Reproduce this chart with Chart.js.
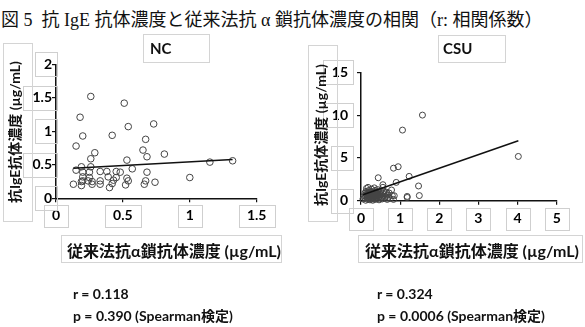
<!DOCTYPE html>
<html>
<head>
<meta charset="utf-8">
<script src="https://cdn.jsdelivr.net/npm/chart.js@4/dist/chart.umd.min.js"></script>
<style>
body { margin: 0; width: 585px; height: 327px; position: relative; background: #fff; overflow: hidden;
       font-family: Lato, "Noto Sans CJK JP", sans-serif; color: #111; }
canvas { position: absolute; top: 0; }
.t { position: absolute; white-space: nowrap; font-weight: bold; }
.box { position: absolute; border: 1px solid #d4d4d4; }
.rot { position: absolute; white-space: nowrap; font-weight: bold; font-size: 14px;
       transform: translate(-50%, -50%) rotate(-90deg); }
</style>
</head>
<body>
<div class="t" style="left:1px;top:5px;font-size:18px;font-weight:normal;font-family:'Liberation Serif','Noto Sans CJK JP',serif;">図 5&nbsp; 抗 IgE 抗体濃度と従来法抗 α 鎖抗体濃度の相関（r: 相関係数）</div>

<canvas id="ncChart" width="292" height="327" style="left:0"></canvas>
<canvas id="csuChart" width="293" height="327" style="left:292px"></canvas>

<div class="box" style="left:143px;top:34px;width:65px;height:27px;"></div>
<div class="t" style="left:150px;top:39px;font-size:15px;">NC</div>
<div class="box" style="left:438px;top:35px;width:66px;height:26px;"></div>
<div class="t" style="left:443px;top:39px;font-size:15px;">CSU</div>

<div class="box" style="left:3px;top:43px;width:28px;height:177px;"></div>
<div class="rot" style="left:14px;top:132px;">抗IgE抗体濃度 (µg/mL)</div>
<div class="box" style="left:308px;top:45px;width:28px;height:175px;"></div>
<div class="rot" style="left:320px;top:135px;">抗IgE抗体濃度 (µg/mL)</div>

<div class="box" style="left:61px;top:235px;width:219px;height:26px;"></div>
<div class="t" style="left:67px;top:238px;font-size:16px;">従来法抗α鎖抗体濃度 (µg/mL)</div>
<div class="box" style="left:358px;top:235px;width:223px;height:26px;"></div>
<div class="t" style="left:365px;top:238px;font-size:16px;">従来法抗α鎖抗体濃度 (µg/mL)</div>

<div class="t" style="left:73px;top:285px;font-size:14px;">r = 0.118</div>
<div class="t" style="left:73px;top:305px;font-size:14px;">p = 0.390 (Spearman検定)</div>
<div class="t" style="left:377px;top:285px;font-size:14px;">r = 0.324</div>
<div class="t" style="left:377px;top:305px;font-size:14px;">p = 0.0006 (Spearman検定)</div>

<script>
// NC group
const ncX = [0.26, 0.51, 0.18, 0.54, 0.73, 0.20, 0.42, 0.15, 0.67, 0.29, 0.65, 0.26, 0.68, 0.81, 0.53,
             1.15, 1.32, 1.00, 0.57, 0.68, 0.74, 0.67, 0.66, 0.53, 0.54, 0.52, 0.48, 0.45, 0.45, 0.38,
             0.33, 0.39, 0.43, 0.42, 0.40, 0.33, 0.33, 0.26, 0.19, 0.15, 0.25, 0.20, 0.25, 0.20, 0.24,
             0.19, 0.27, 0.19, 0.13, 0.27, 0.20];
const ncY = [1.52, 1.42, 1.21, 1.07, 1.11, 0.93, 0.94, 0.78, 0.88, 0.68, 0.72, 0.59, 0.62, 0.66, 0.57,
             0.54, 0.56, 0.31, 0.44, 0.39, 0.24, 0.26, 0.21, 0.30, 0.26, 0.20, 0.39, 0.40, 0.31, 0.40,
             0.40, 0.32, 0.27, 0.22, 0.16, 0.26, 0.21, 0.47, 0.47, 0.42, 0.39, 0.39, 0.31, 0.32, 0.26,
             0.25, 0.21, 0.19, 0.21, 0.25, 0.26];
const ncTrendX = [0.13, 1.32];
const ncTrendY = [0.45, 0.58];
const ncXTicks = ['0', '0.5', '1', '1.5'];
const ncYTicks = ['0', '0.5', '1', '1.5', '2'];

// CSU group
const csuX = [1.57, 1.06, 0.83, 0.95, 4.02, 1.23, 0.90, 1.47, 1.49, 1.18, 1.18, 0.44, 0.56, 0.56, 0.14,
              0.78, 0.85, 0.05, 0.08, 0.10, 0.10, 0.12, 0.13, 0.15, 0.16, 0.17, 0.18, 0.18, 0.20, 0.20,
              0.21, 0.22, 0.23, 0.24, 0.25, 0.26, 0.27, 0.28, 0.29, 0.30, 0.30, 0.31, 0.32, 0.33, 0.34,
              0.35, 0.35, 0.36, 0.37, 0.38, 0.39, 0.40, 0.41, 0.42, 0.43, 0.45, 0.46, 0.47, 0.48, 0.50,
              0.51, 0.52, 0.54, 0.55, 0.57, 0.58, 0.60, 0.62, 0.63, 0.65, 0.67, 0.68, 0.70, 0.72, 0.75,
              0.80, 0.83, 0.12, 0.15, 0.19, 0.22, 0.25, 0.28, 0.31, 0.34, 0.37, 0.40, 0.43, 0.46, 0.49,
              0.53, 0.16, 0.24, 0.29, 0.36, 0.44, 0.27, 0.33, 0.39, 0.21];
const csuY = [10.0, 8.25, 3.80, 3.97, 5.17, 2.84, 2.14, 1.72, 0.60, 0.50, 0.38, 2.68, 1.87, 1.56, 1.44,
              1.25, 0.58, 0.20, 0.60, 0.90, 0.35, 0.05, 1.10, 0.70, 0.40, 0.15, 1.56, 0.85, 0.50, 1.20,
              0.30, 0.75, 0.10, 1.00, 0.55, 0.25, 1.35, 0.80, 0.45, 0.05, 1.05, 0.65, 0.30, 0.90, 1.50,
              0.15, 0.60, 1.20, 0.40, 0.80, 0.20, 1.00, 0.55, 1.30, 0.30, 0.75, 0.10, 0.95, 0.50, 1.15,
              0.35, 0.70, 0.20, 0.90, 0.55, 1.10, 0.30, 0.80, 0.50, 1.00, 0.15, 0.65, 0.40, 0.90, 0.25,
              0.60, 0.15, 0.55, 0.95, 0.65, 0.45, 0.85, 0.60, 0.35, 0.70, 1.05, 0.60, 0.85, 0.45, 0.75,
              0.40, 0.30, 0.65, 0.95, 0.50, 0.60, 0.20, 0.45, 0.70, 1.00];
const csuTrendX = [0.05, 4.02];
const csuTrendY = [0.69, 7.0];
const csuXTicks = ['0', '1', '2', '3', '4', '5'];
const csuYTicks = ['0', '5', '10', '15'];

const tickFont = { family: 'Lato', size: 14, weight: 'bold' };

// light boxes around the tick labels, as in the original figure
const tickBoxes = {
  id: 'tickBoxes',
  afterDraw(chart) {
    const ctx = chart.ctx;
    ctx.save();
    ctx.strokeStyle = '#cfcfcf';
    ctx.lineWidth = 1;
    ctx.font = 'bold 14px Lato';
    const xs = chart.scales.x, ys = chart.scales.y;
    xs.ticks.forEach(t => {
      const w = ctx.measureText(String(t.label)).width + 16;
      const px = xs.getPixelForValue(t.value);
      const cy = xs.top + 4 + xs.options.ticks.padding + 9;
      ctx.strokeRect(Math.round(px - w / 2) + 0.5, Math.round(cy - 11) + 0.5, Math.round(w), 22);
    });
    ys.ticks.forEach(t => {
      const w = ctx.measureText(String(t.label)).width + 14;
      const py = ys.getPixelForValue(t.value);
      const right = ys.right - 4 - ys.options.ticks.padding + 5;
      ctx.strokeRect(Math.round(right - w) + 0.5, Math.round(py - 12) + 0.5, Math.round(w), 24);
    });
    ctx.restore();
  }
};

function makeChart(id, xs, ys, tx, ty, xMax, xStep, yMax, yStep, xLabels, yLabels, pad, yWidth, yPad, xPad, r) {
  const pts = xs.map((x, i) => ({ x: x, y: ys[i] }));
  const line = tx.map((x, i) => ({ x: x, y: ty[i] }));
  return new Chart(document.getElementById(id), {
    type: 'scatter',
    data: {
      datasets: [{
        data: line,
        showLine: true,
        borderColor: '#111',
        borderWidth: 1.5,
        pointRadius: 0
      }, {
        data: pts,
        pointRadius: r,
        pointBackgroundColor: 'rgba(0,0,0,0)',
        pointBorderColor: '#444',
        pointBorderWidth: 1,
        clip: 6
      }]
    },
    options: {
      responsive: false,
      animation: false,
      events: [],
      layout: { padding: pad },
      plugins: { legend: { display: false }, tooltip: { enabled: false } },
      scales: {
        x: {
          type: 'linear', min: 0, max: xMax,
          afterFit: s => { s.height = 30; },
          border: { display: true, color: '#111', width: 1.5 },
          grid: { drawOnChartArea: false, drawTicks: true, tickLength: 4, color: '#111', lineWidth: 1.2 },
          ticks: { stepSize: xStep, padding: xPad, color: '#000', maxRotation: 0, font: tickFont,
                   callback: (v, i) => xLabels[i] }
        },
        y: {
          type: 'linear', min: 0, max: yMax,
          afterFit: s => { s.width = yWidth; },
          border: { display: true, color: '#111', width: 1.5 },
          grid: { drawOnChartArea: false, drawTicks: true, tickLength: 4, color: '#111', lineWidth: 1.2 },
          ticks: { stepSize: yStep, padding: yPad, color: '#000', font: tickFont,
                   callback: (v, i) => yLabels[i] }
        }
      }
    },
    plugins: [tickBoxes]
  });
}

makeChart('ncChart', ncX, ncY, ncTrendX, ncTrendY, 1.5, 0.5, 2, 0.5, ncXTicks, ncYTicks,
  { left: 0, top: 64.3, right: 292 - 256.7, bottom: 327 - 198.3 - 30 }, 56, 0, 5, 3.3);
makeChart('csuChart', csuX, csuY, csuTrendX, csuTrendY, 5, 1, 15, 5, csuXTicks, csuYTicks,
  { left: 0, top: 72.3, right: 293 - 264.7, bottom: 327 - 200.7 - 30 }, 69, 9, 5, 3);
</script>
</body>
</html>
